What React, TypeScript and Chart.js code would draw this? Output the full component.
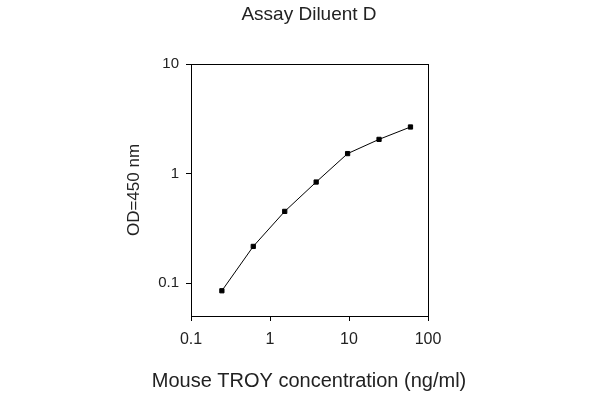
import React, { useEffect, useRef } from "react";
import { Chart, registerables } from "chart.js";

Chart.register(...registerables);

// Data
const concentration = [0.246, 0.614, 1.536, 3.84, 9.6, 24, 60];
const od450 = [0.085, 0.216, 0.451, 0.836, 1.52, 2.05, 2.66];
const xTicks = [0.1, 1, 10, 100];
const yTicks = [0.1, 1, 10];
const chartTitle = "Assay Diluent D";
const xTitle = "Mouse TROY concentration (ng/ml)";
const yTitle = "OD=450 nm";

const FONT = "'Liberation Sans', Arial, sans-serif";
const TEXT = "#222";

export default function App() {
  const ref = useRef<HTMLCanvasElement>(null);

  useEffect(() => {
    const chart = new Chart(ref.current as HTMLCanvasElement, {
      type: "line",
      data: {
        datasets: [
          {
            data: concentration.map((x, i) => ({ x, y: od450[i] })),
            borderColor: "#000",
            borderWidth: 1,
            pointStyle: "rect",
            pointRadius: 3,
            pointBackgroundColor: "#000",
            pointBorderColor: "#000",
            pointBorderWidth: 1,
            tension: 0,
            fill: false,
          },
        ],
      },
      options: {
        responsive: false,
        animation: false,
        layout: { padding: { left: 120, right: 102, top: 0, bottom: 0 } },
        plugins: {
          legend: { display: false },
          tooltip: { enabled: false },
          title: {
            display: true,
            text: chartTitle,
            color: TEXT,
            font: { family: FONT, size: 19, weight: "normal" },
            padding: { top: 3.6, bottom: 37.6 },
          },
          subtitle: {
            display: true,
            position: "bottom",
            text: xTitle,
            color: TEXT,
            font: { family: FONT, size: 20, weight: "normal" },
            padding: { top: 4, bottom: 7 },
          },
        },
        scales: {
          x: {
            type: "logarithmic",
            position: "bottom",
            min: 0.1,
            max: 100,
            afterBuildTicks: (s: any) => {
              s.ticks = xTicks.map((v) => ({ value: v }));
            },
            afterFit: (s: any) => {
              s.height = 49;
            },
            ticks: {
              color: TEXT,
              font: { family: FONT, size: 16 },
              padding: 9,
              maxRotation: 0,
              autoSkip: false,
              callback: (v: any) => String(Number(v)),
            },
            grid: {
              display: true,
              drawOnChartArea: false,
              drawTicks: true,
              tickLength: 5,
              color: "#000",
            },
            border: { display: true, color: "#000", width: 1 },
          },
          y: {
            type: "logarithmic",
            position: "left",
            min: 0.05,
            max: 10,
            afterBuildTicks: (s: any) => {
              s.ticks = yTicks.map((v) => ({ value: v }));
            },
            afterFit: (s: any) => {
              s.width = 71;
            },
            ticks: {
              color: TEXT,
              font: { family: FONT, size: 15 },
              padding: 7,
              autoSkip: false,
              callback: (v: any) => String(Number(v)),
            },
            grid: {
              display: true,
              drawOnChartArea: false,
              drawTicks: true,
              tickLength: 5,
              color: "#000",
            },
            border: { display: true, color: "#000", width: 1 },
            title: {
              display: true,
              text: yTitle,
              color: TEXT,
              font: { family: FONT, size: 17 },
              padding: { top: 4, bottom: 4 },
            },
          },
          x2: {
            type: "linear",
            position: "top",
            display: true,
            ticks: { display: false },
            grid: { display: false },
            border: { display: true, color: "#000", width: 1 },
            afterFit: (s: any) => {
              s.height = 0;
            },
          },
          y2: {
            type: "linear",
            position: "right",
            display: true,
            ticks: { display: false },
            grid: { display: false },
            border: { display: true, color: "#000", width: 1 },
            afterFit: (s: any) => {
              s.width = 70;
            },
          },
        },
      } as any,
    });
    return () => chart.destroy();
  }, []);

  return (
    <div style={{ position: "absolute", left: 0, top: 0, width: 600, height: 400, background: "#fff" }}>
      <canvas ref={ref} width={600} height={400} />
    </div>
  );
}
